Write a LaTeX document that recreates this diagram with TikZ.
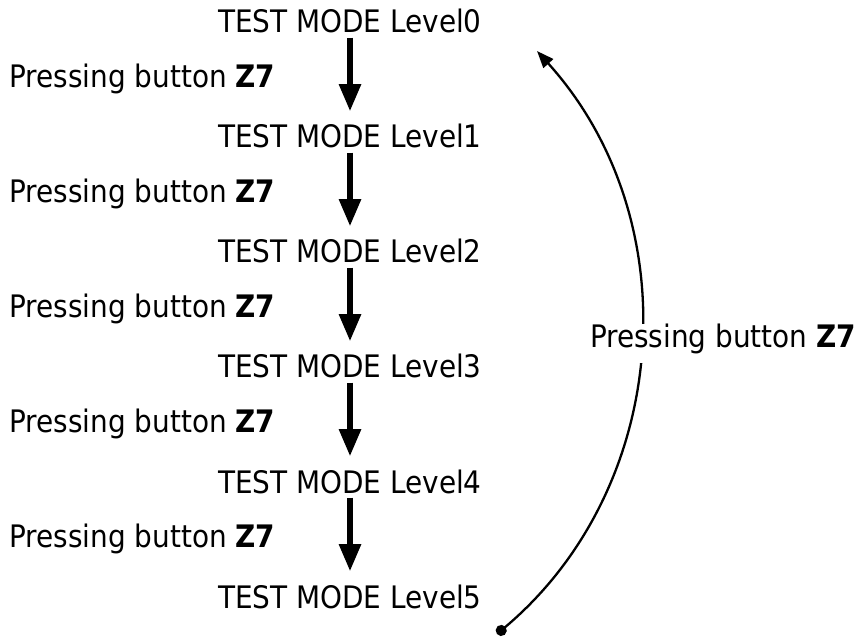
\documentclass[tikz,border=0pt]{standalone}
\usepackage{fontspec}
\setmainfont{DejaVu Sans Condensed}
\usetikzlibrary{arrows.meta,positioning}

\begin{document}
\begin{tikzpicture}[
        x=1pt, y=1pt,
        every node/.style={font=\fontsize{31pt}{37pt}\selectfont},
        lvl/.style={inner sep=0pt},
        lab/.style={inner sep=0pt, left=72pt},
        down/.style={-{Triangle[length=27pt,width=21pt]}, line width=5.5pt, shorten <=4pt, shorten >=13pt},
        back/.style={{Circle[length=11pt]}-{Triangle[length=17pt,width=13pt]}, line width=2.3pt}
    ]

    \tikzset{
        node distance=115pt,
    }

    \useasboundingbox (0,0) rectangle (861,640);

    \node[lvl,anchor=base] (L0) at (350,607) {TEST MODE Level0};
    \node[lvl,below of=L0] (L1) {TEST MODE Level1};
    \node[lvl,below of=L1] (L2) {TEST MODE Level2};
    \node[lvl,below of=L2] (L3) {TEST MODE Level3};
    \node[lvl,below of=L3] (L4) {TEST MODE Level4};
    \node[lvl,below of=L4] (L5) {TEST MODE Level5};

    \draw[down]
        (L0) edge node[lab] (p1) {Pressing button \textbf{Z7}} (L1)
        (L1) edge node[lab] (p2) {Pressing button \textbf{Z7}} (L2)
        (L2) edge node[lab] (p3) {Pressing button \textbf{Z7}} (L3)
        (L3) edge node[lab] (p4) {Pressing button \textbf{Z7}} (L4)
        (L4) edge node[lab] (p5) {Pressing button \textbf{Z7}} (L5)
        ;

    % way back to level 0
    \coordinate (start) at (497,6);
    \coordinate (tip) at (537,589);
    \draw[back] (start) to[bend right=46] (tip);
    \node[inner sep=0pt,fill=white,text depth=15pt,anchor=base west] (pback) at (590,292) {Pressing button \textbf{Z7}};

\end{tikzpicture}
\end{document}
